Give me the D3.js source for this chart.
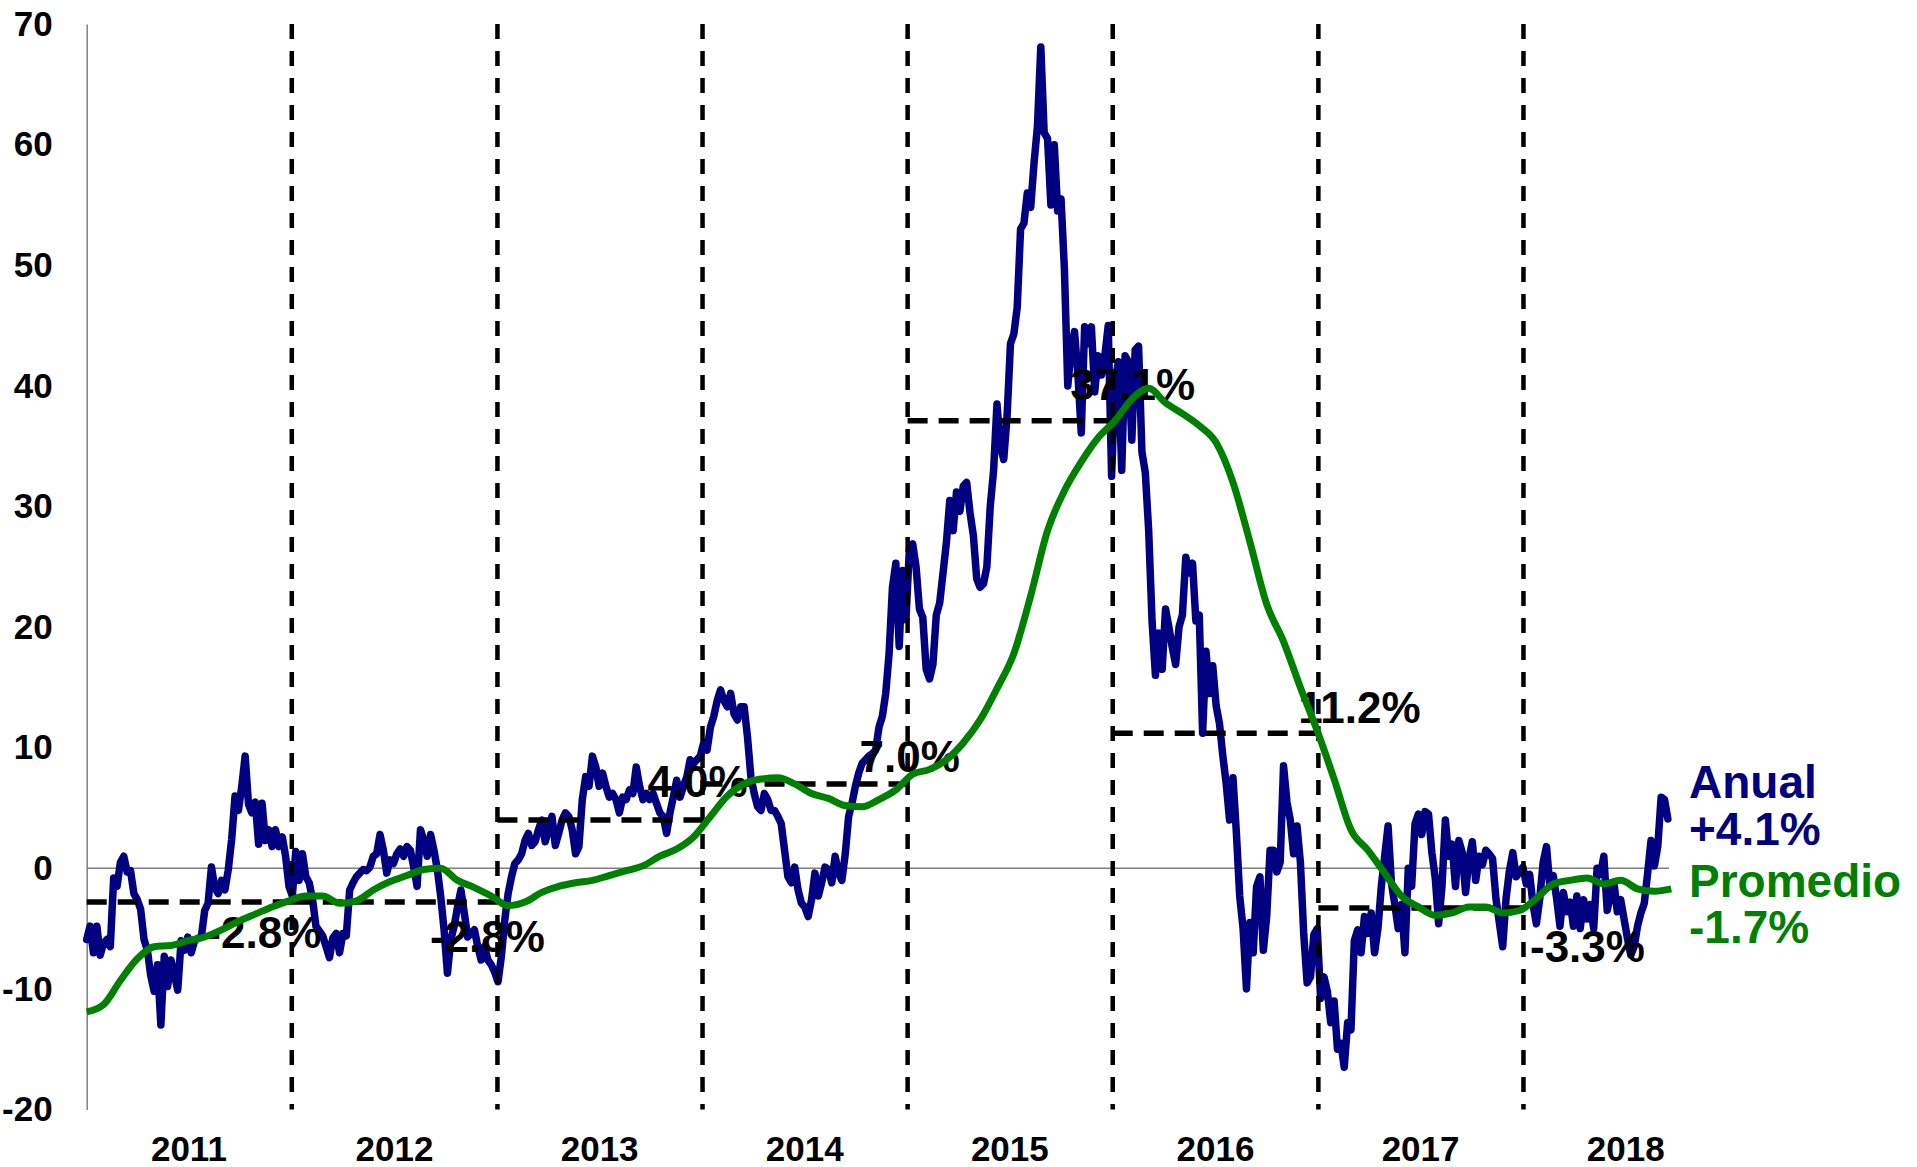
<!DOCTYPE html>
<html>
<head>
<meta charset="utf-8">
<script src="https://cdn.jsdelivr.net/npm/d3@7"></script>
<style>
    body { margin: 0; background: #fff; }
    text { font-family: Arial, "Liberation Sans", sans-serif; font-weight: bold; }
</style>
</head>
<body>
<svg id="chart" width="1917" height="1167"></svg>
<script>
// ---- data ----
const startDate = new Date(2011, 0, 1);

// annual % change, one reading every 6 days from startDate
const anualStepDays = 6;
const anual = [
    -5.9, -4.8, -7.0, -4.8, -7.2, -6.2, -5.9, -6.5, -0.8, -1.5,
    0.5, 1.0, -0.3, -0.2, -2.1, -2.6, -3.4, -5.9, -6.8, -8.9,
    -10.2, -8.0, -13.0, -7.3, -9.8, -7.6, -8.8, -10.1, -6.0, -6.8,
    -5.7, -7.0, -6.0, -5.8, -5.7, -3.5, -2.9, 0.1, -1.6, -2.1,
    -1.0, -1.8, -0.1, 2.4, 6.0, 4.8, 6.8, 9.3, 5.3, 4.6,
    5.5, 2.0, 5.4, 2.3, 3.2, 1.8, 3.2, 1.8, 2.6, 1.0,
    -1.5, -2.3, 1.4, -1.0, 1.2, -0.7, -1.2, -2.6, -4.8, -5.2,
    -5.6, -6.5, -7.4, -5.8, -5.4, -7.0, -5.4, -5.6, -1.8, -1.2,
    -0.7, -0.4, -0.1, -0.2, 0.1, 1.0, 1.2, 2.8, 1.5, -0.4,
    0.7, 0.4, 1.2, 1.6, 1.0, 1.8, 1.5, 0.1, -1.5, 3.2,
    2.3, 1.0, 2.8, 1.5, -0.1, -2.3, -5.1, -8.7, -5.9, -4.8,
    -3.2, -1.8, -3.7, -5.7, -5.4, -5.1, -6.5, -7.6, -6.5, -7.6,
    -8.0, -8.6, -9.4, -7.3, -4.3, -2.1, -0.7, 0.4, 0.7, 1.2,
    2.3, 2.9, 1.9, 2.2, 3.2, 4.0, 2.2, 3.2, 4.3, 1.9,
    2.9, 4.0, 4.6, 4.3, 3.2, 1.2, 1.8, 5.7, 7.6, 6.8,
    9.3, 8.4, 6.8, 7.9, 6.8, 5.9, 6.2, 5.7, 4.6, 5.9,
    5.7, 6.5, 6.2, 8.4, 6.8, 5.7, 6.2, 5.7, 6.2, 5.4,
    4.6, 4.3, 2.9, 4.6, 5.9, 7.3, 5.9, 6.8, 7.6, 9.0,
    8.7, 9.0, 9.3, 10.4, 9.8, 11.7, 12.6, 13.9, 14.8, 13.9,
    13.4, 14.5, 12.8, 12.3, 13.4, 13.4, 10.9, 7.6, 6.2, 5.1,
    4.8, 6.2, 5.7, 4.8, 4.8, 4.3, 3.7, 1.5, -0.7, -1.2,
    0.1, -1.8, -2.9, -3.2, -4.0, -2.6, -0.4, -2.3, -1.2, 0.1,
    -0.1, -1.2, 1.0, -0.4, -1.0, 1.2, 4.3, 5.4, 6.8, 7.9,
    8.7, 9.0, 9.3, 9.5, 9.8, 11.7, 12.6, 14.5, 17.8, 23.3,
    25.3, 18.4, 24.7, 20.6, 26.4, 26.9, 25.0, 21.5, 20.8, 16.5,
    15.7, 16.9, 21.0, 22.0, 24.5, 27.0, 30.5, 28.0, 31.2, 29.6,
    31.7, 32.0, 29.5, 27.6, 24.0, 23.3, 23.6, 25.0, 30.0, 33.0,
    38.5, 35.0, 33.9, 37.5, 43.5, 44.3, 46.5, 53.0, 53.5, 56.0,
    54.8, 58.5, 61.5, 68.1, 61.0, 60.5, 55.0, 60.0, 54.5, 55.5,
    49.7, 40.0, 43.0, 44.5, 41.0, 36.1, 44.9, 43.5, 44.9, 39.5,
    42.5, 40.9, 42.5, 45.0, 32.5, 40.2, 42.0, 33.0, 42.5, 42.0,
    35.5, 43.0, 43.3, 34.5, 32.8, 28.0, 20.5, 16.0, 19.5, 16.5,
    21.5, 20.0, 18.3, 16.9, 20.0, 21.0, 25.8, 24.5, 25.3, 20.5,
    21.0, 11.2, 18.0, 14.5, 16.8, 13.5, 12.0, 9.3, 7.0, 4.0,
    7.5, 3.0, -2.3, -5.0, -10.0, -4.5, -7.0, -1.5, -0.7, -6.8,
    -4.0, 1.5, 1.5, -0.3, 0.5, 8.5, 5.5, 4.0, 1.2, 3.5,
    0.5, -5.5, -9.5, -9.0, -5.5, -5.0, -10.8, -9.0, -10.2, -12.8,
    -11.0, -15.0, -14.5, -16.5, -12.8, -13.4, -6.0, -5.1, -7.0, -4.0,
    -5.4, -3.7, -7.0, -5.0, -1.5, 1.0, 3.5, -1.2, -3.0, -5.0,
    -3.0, -7.0, 0.0, -1.5, 3.7, 4.5, 2.8, 4.7, 4.5, 1.3,
    -0.8, -4.6, -1.5, 4.0, 1.0, 2.0, -1.5, 2.3, 1.3, -2.0,
    0.8, 2.2, -1.0, 1.0, 0.3, 1.5, 1.2, 0.8, -2.5, -4.5,
    -6.5, -2.5, -0.2, 1.3, -0.7, -0.3, 0.1, -1.3, -0.5, -3.0,
    -4.6, -2.5, 0.5, 1.8, -1.5, -0.6, -2.5, -4.8, -2.0, -3.6,
    -2.8, -4.8, -2.3, -5.0, -2.6, -4.2, -3.0, -5.0, 0.0, -0.5,
    1.0, -3.5, -2.2, -1.2, -3.6, -2.6, -4.2, -5.8, -7.2, -6.5,
    -4.8, -3.7, -2.9, -0.4, 2.3, 0.2, 1.8, 5.9, 5.7, 4.1
];

// running average, one reading every 30 days from startDate
const promedioStepDays = 30;
const promedio = [
    -11.9, -11.3, -9.3, -7.5, -6.5, -6.4, -6.0, -5.7, -5.1, -4.4,
    -3.8, -3.2, -2.7, -2.3, -2.3, -2.9, -2.7, -1.8, -1.1, -0.6,
    -0.1, 0.0, -1.0, -1.6, -2.3, -3.1, -2.8, -2.0, -1.5, -1.2,
    -1.0, -0.6, -0.2, 0.2, 1.0, 1.6, 2.6, 4.3, 6.0, 7.0,
    7.4, 7.5, 7.0, 6.2, 5.8, 5.2, 5.1, 5.7, 6.5, 7.8,
    8.2, 9.0, 10.4, 12.3, 14.9, 17.8, 22.6, 28.0, 31.3, 33.7,
    35.7, 37.1, 38.9, 39.8, 38.6, 37.7, 36.7, 35.3, 32.0, 27.1,
    21.9, 18.8, 15.0, 11.4, 7.4, 3.2, 1.5, -0.4, -2.3, -3.2,
    -3.9, -3.7, -3.2, -3.2, -3.7, -3.5, -2.5, -1.3, -1.0, -0.8,
    -1.3, -1.0, -1.7, -1.9, -1.7
];

const years = [2011, 2012, 2013, 2014, 2015, 2016, 2017, 2018];
const avgYears = [2011, 2012, 2013, 2014, 2015, 2016, 2017];
const yearAvg = [-2.8, -2.8, 4.0, 7.0, 37.1, 11.2, -3.3];
const yTicks = [-20, -10, 0, 10, 20, 30, 40, 50, 60, 70];
const legendAnual = ["Anual", "+4.1%"];
const legendPromedio = ["Promedio", "-1.7%"];

// ---- layout ----
const svg = d3.select("#chart");
const navy = "#000080";
const green = "#008000";
const locale = d3.formatLocale({ decimal: ".", thousands: ",", grouping: [3], currency: ["", ""], minus: "-" });
const fmtTick = locale.format("d");
const fmtPct = locale.format(".1f");

const x = d3.scaleTime()
    .domain([startDate, new Date(2018, 8, 17)])
    .range([86.7, 1669]);
const y = d3.scaleLinear()
    .domain([-20, 70])
    .range([1109.5, 24.1]);

const anualData = anual.map((v, i) => ({ date: d3.timeDay.offset(startDate, i * anualStepDays), v }));
const promedioData = promedio.map((v, i) => ({ date: d3.timeDay.offset(startDate, i * promedioStepDays), v }));

// zero line
svg.append("line")
    .attr("x1", x.range()[0])
    .attr("x2", x.range()[1])
    .attr("y1", y(0))
    .attr("y2", y(0))
    .attr("stroke", "#808080")
    .attr("stroke-width", 1.5);

// y axis
svg.append("g")
    .attr("transform", `translate(${x.range()[0]},0)`)
    .call(d3.axisLeft(y).tickValues(yTicks).tickFormat(fmtTick).tickSize(0).tickSizeOuter(0).tickPadding(34))
    .call((g) => {
        g.attr("font-size", 35).attr("font-family", null);
        g.select(".domain").attr("stroke", "#808080").attr("stroke-width", 1.5);
        g.selectAll("text").attr("fill", "#000");
    });

// x axis labels (years, placed mid-year)
svg.append("g")
    .attr("transform", `translate(0,${y(-20)})`)
    .call(d3.axisBottom(x)
        .tickValues(years.map((yr) => new Date(yr, 6, 1)))
        .tickFormat(d3.timeFormat("%Y"))
        .tickSize(0)
        .tickPadding(27))
    .call((g) => {
        g.attr("font-size", 35).attr("font-family", null);
        g.select(".domain").remove();
        g.selectAll("text").attr("fill", "#000");
    });

// anual series
svg.append("path")
    .datum(anualData)
    .attr("d", d3.line().x((d) => x(d.date)).y((d) => y(d.v)))
    .attr("fill", "none")
    .attr("stroke", navy)
    .attr("stroke-width", 7.5)
    .attr("stroke-linejoin", "round")
    .attr("stroke-linecap", "round");

// year separators
svg.append("g")
    .selectAll("line")
    .data(years.slice(1))
    .join("line")
    .attr("x1", (yr) => x(new Date(yr, 0, 1)))
    .attr("x2", (yr) => x(new Date(yr, 0, 1)))
    .attr("y1", y(70))
    .attr("y2", y(-20))
    .attr("stroke", "#000")
    .attr("stroke-width", 4.5)
    .attr("stroke-dasharray", "15,12");

// yearly averages
svg.append("g")
    .selectAll("line")
    .data(avgYears)
    .join("line")
    .attr("x1", (yr) => x(new Date(yr, 0, 1)))
    .attr("x2", (yr) => x(new Date(yr + 1, 0, 1)))
    .attr("y1", (yr, i) => y(yearAvg[i]))
    .attr("y2", (yr, i) => y(yearAvg[i]))
    .attr("stroke", "#000")
    .attr("stroke-width", 5.5)
    .attr("stroke-dasharray", "20,11");

// label nudges (px) from the end of each average line
const avgLabelNudge = [[-28, 46], [-10, 50], [-5, -23], [2, -12], [20, -21], [41, -10], [64, 54]];
svg.append("g")
    .selectAll("text")
    .data(avgYears)
    .join("text")
    .attr("x", (yr, i) => x(new Date(yr + 1, 0, 1)) + avgLabelNudge[i][0])
    .attr("y", (yr, i) => y(yearAvg[i]) + avgLabelNudge[i][1])
    .attr("text-anchor", "middle")
    .attr("font-size", 44)
    .attr("fill", "#000")
    .text((yr, i) => fmtPct(yearAvg[i]) + "%");

// promedio series
svg.append("path")
    .datum(promedioData)
    .attr("d", d3.line().curve(d3.curveMonotoneX).x((d) => x(d.date)).y((d) => y(d.v)))
    .attr("fill", "none")
    .attr("stroke", green)
    .attr("stroke-width", 7)
    .attr("stroke-linejoin", "round");

// end labels
const legendX = 1689;
svg.append("g")
    .selectAll("text")
    .data(legendAnual)
    .join("text")
    .attr("x", legendX)
    .attr("y", (d, i) => 798 + i * 47)
    .attr("font-size", 46)
    .attr("fill", navy)
    .text((d) => d);

svg.append("g")
    .selectAll("text")
    .data(legendPromedio)
    .join("text")
    .attr("x", legendX)
    .attr("y", (d, i) => 897 + i * 46)
    .attr("font-size", 46)
    .attr("fill", green)
    .text((d) => d);
</script>
</body>
</html>
